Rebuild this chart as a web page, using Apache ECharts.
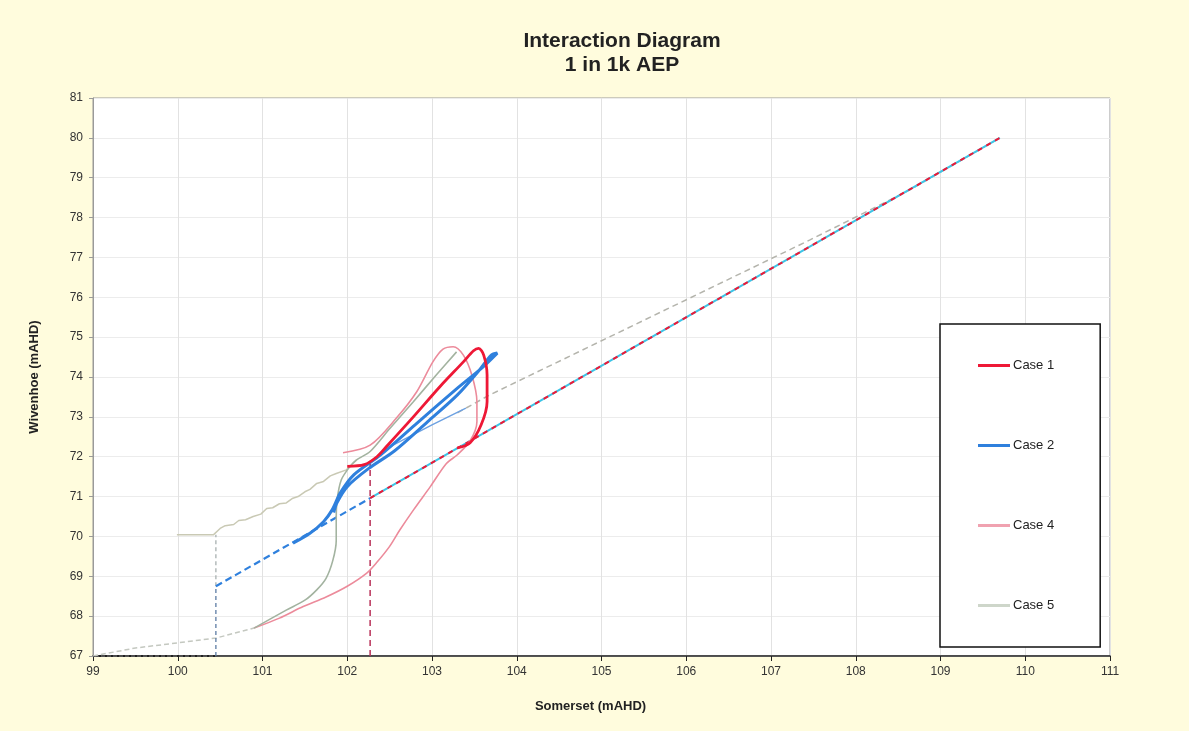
<!DOCTYPE html>
<html><head><meta charset="utf-8">
<script src="https://cdn.jsdelivr.net/npm/echarts@6/dist/echarts.min.js"></script>
<style>html,body{margin:0;padding:0;background:#fffcdd;}#c{width:1189px;height:731px;}</style>
</head><body><div id="c"></div>
<script>
// ---- data ----
const xTicks = [99,100,101,102,103,104,105,106,107,108,109,110,111];
const yTicks = [67,68,69,70,71,72,73,74,75,76,77,78,79,80,81];
const legendNames = ['Case 1','Case 2','Case 4','Case 5'];

const case1Loop = [[102.0,71.76],[102.2,71.8],[102.35,72.0],[102.46,72.25],[102.78,73.0],[103.09,73.75],[103.37,74.38],[103.49,74.66],[103.55,74.72],[103.61,74.55],[103.65,74.05],[103.65,73.38],[103.58,72.8],[103.45,72.35],[103.3,72.22]];
const case1Vertical = [[102.27,67.0],[102.27,71.9]];
const case1Diagonal = [[102.27,70.96],[109.7,80.0]];

const case2Loop = [[101.36,69.83],[101.56,70.08],[101.72,70.37],[101.82,70.66],[101.92,71.1],[102.08,71.55],[102.39,72.04],[102.8,72.8],[103.3,73.72],[103.6,74.25],[103.77,74.6],[103.7,74.55],[103.55,74.15],[103.3,73.55],[102.95,72.88],[102.56,72.15],[102.25,71.7],[102.0,71.25],[101.88,70.85],[101.84,70.6]];
const case2Return = [[102.35,71.98],[102.54,72.29],[103.0,72.8],[103.4,73.22]];
const case2DashStart = [[100.45,68.75],[102.27,70.96]];
const case2Diagonal = [[102.27,70.96],[109.7,80.0]];
const case2Vertical = [[100.45,67.0],[100.45,68.75]];

const case4Loop = [[101.95,72.1],[102.27,72.29],[102.58,72.97],[102.82,73.63],[103.01,74.38],[103.13,74.7],[103.25,74.76],[103.37,74.55],[103.47,74.05],[103.53,73.38],[103.53,72.88],[103.45,72.4],[103.3,72.05],[103.17,71.83],[102.98,71.25],[102.78,70.66],[102.62,70.16],[102.5,69.75],[102.35,69.35],[102.23,69.08],[102.0,68.75],[101.75,68.48],[101.48,68.24],[101.2,67.95],[100.9,67.7]];

const case5Rise = [[100.9,67.7],[101.28,68.15],[101.5,68.4],[101.64,68.66],[101.75,68.95],[101.83,69.4],[101.87,69.9],[101.87,70.4],[101.88,70.91],[101.93,71.42],[102.03,71.75],[102.11,71.92],[102.27,72.13],[102.5,72.7],[102.78,73.38],[103.05,74.05],[103.29,74.63]];
const case5Base = [[99.0,67.0],[99.5,67.2],[100.0,67.33],[100.45,67.45],[100.9,67.7]];
const case5Upper = [[99.99,70.04],[100.42,70.04],[100.5,70.2],[100.56,70.27],[100.66,70.3],[100.72,70.4],[100.8,70.42],[100.89,70.5],[100.98,70.56],[101.05,70.7],[101.12,70.72],[101.2,70.82],[101.28,70.84],[101.35,70.95],[101.42,71.0],[101.5,71.12],[101.56,71.18],[101.64,71.33],[101.72,71.38],[101.8,71.52],[101.87,71.58],[101.99,71.67],[102.11,71.92]];
const case5Vertical = [[100.45,68.75],[100.45,70.04]];
const case5Dashed = [[103.3,73.1],[103.68,73.55],[107.46,77.44],[108.6,78.65],[109.7,80.0]];
const baseDotted = [[99.0,67.0],[100.45,67.0]];

// ---- colours ----
const RED = '#ee1836', BLUE = '#2f80dd', PINK = '#ec8b9b', CYAN = '#3cc4e6';

function line(name, data, color, width, type, extra) {
  return Object.assign({
    name, type: 'line', data, symbol: 'none', showSymbol: false,
    lineStyle: { color, width, type: type || 'solid' },
    itemStyle: { color }, z: 2, silent: true, animation: false
  }, extra || {});
}

const series = [
  line('base dotted', baseDotted, '#222', 2, [2,4]),
  line('c5 base', case5Base, '#c4c8c0', 1.5, [5,3]),
  line('c2 vertical', case2Vertical, '#5c7ca4', 1.3, [4,3]),
  line('c5 vertical', case5Vertical, '#a8b0b0', 1.3, [4,3]),
  line('c1 vertical', case1Vertical, '#b83058', 1.5, [6,4]),
  line('c5 upper', case5Upper, '#c9c9b4', 1.5),
  line('c5 dashed', case5Dashed, '#b4b4ac', 1.5, [6,4]),
  line('c2 dash start', case2DashStart, BLUE, 2.2, [7,4]),
  line('c2 diagonal', case2Diagonal, CYAN, 2),
  line('c1 diagonal', case1Diagonal, RED, 2, [5,5]),
  line('Case 4', case4Loop, PINK, 1.6, 'solid', {smooth: 0.3, z: 3}),
  line('Case 5', case5Rise, '#a3b3a0', 1.6, 'solid', {smooth: 0.3, z: 3}),
  line('c2 return', case2Return, '#6ea2e2', 1.5, 'solid', {z: 3}),
  line('Case 2', case2Loop, BLUE, 3, 'solid', {smooth: 0.3, z: 4}),
  line('Case 1', case1Loop, RED, 2.8, 'solid', {smooth: 0.3, z: 5})
];

const legendColors = {'Case 1': RED, 'Case 2': BLUE, 'Case 4': '#f0a2b0', 'Case 5': '#ced6ca'};

const chart = echarts.init(document.getElementById('c'), null, {renderer: 'canvas'});
chart.setOption({
  backgroundColor: '#fffcdd',
  animation: false,
  title: {
    text: 'Interaction Diagram\n1 in 1k AEP',
    left: 617, top: 24, textAlign: 'center',
    textStyle: { fontFamily: 'Liberation Sans, Arial', fontSize: 21, fontWeight: 'bold', color: '#222', lineHeight: 24 }
  },
  legend: {
    data: legendNames.map(n => ({ name: n, icon: 'rect', itemStyle: { color: legendColors[n] } })),
    orient: 'vertical', left: 940, top: 324,
    itemWidth: 32, itemHeight: 3, itemGap: 67,
    padding: [35, 46, 35, 38],
    backgroundColor: '#fff', borderColor: '#111', borderWidth: 1.5, borderRadius: 0,
    textStyle: { fontFamily: 'Liberation Sans, Arial', fontSize: 13, color: '#222', padding: [0,0,0,-2] },
    selectedMode: false
  },
  grid: { left: 93, right: 79, top: 98, bottom: 75, show: true, backgroundColor: '#fff', borderColor: '#9a9a9a', borderWidth: 1 },
  xAxis: {
    type: 'value', min: xTicks[0], max: xTicks[xTicks.length-1], interval: 1,
    name: 'Somerset (mAHD)', nameLocation: 'middle', nameGap: 44,
    nameTextStyle: { fontFamily: 'Liberation Sans, Arial', fontSize: 13, fontWeight: 'bold', color: '#222', padding: [0, 22, 0, 0] },
    axisLine: { show: true, onZero: false, lineStyle: { color: '#222', width: 1.5 } },
    axisTick: { show: true, length: 5, lineStyle: { color: '#222' } },
    axisLabel: { fontFamily: 'Liberation Sans, Arial', fontSize: 12, color: '#333', margin: 10 },
    splitLine: { show: true, lineStyle: { color: '#e2e2e2', width: 1 } }
  },
  yAxis: {
    type: 'value', min: yTicks[0], max: yTicks[yTicks.length-1], interval: 1,
    name: 'Wivenhoe (mAHD)', nameLocation: 'middle', nameGap: 52, nameRotate: 90,
    nameTextStyle: { fontFamily: 'Liberation Sans, Arial', fontSize: 13, fontWeight: 'bold', color: '#222' },
    axisLine: { show: true, onZero: false, lineStyle: { color: '#9a9a9a', width: 1 } },
    axisTick: { show: true, length: 4, lineStyle: { color: '#9a9a9a' } },
    axisLabel: { fontFamily: 'Liberation Sans, Arial', fontSize: 12, color: '#333', margin: 10 },
    splitLine: { show: true, lineStyle: { color: '#ececec', width: 1 } }
  },
  series
});
</script>
</body></html>
